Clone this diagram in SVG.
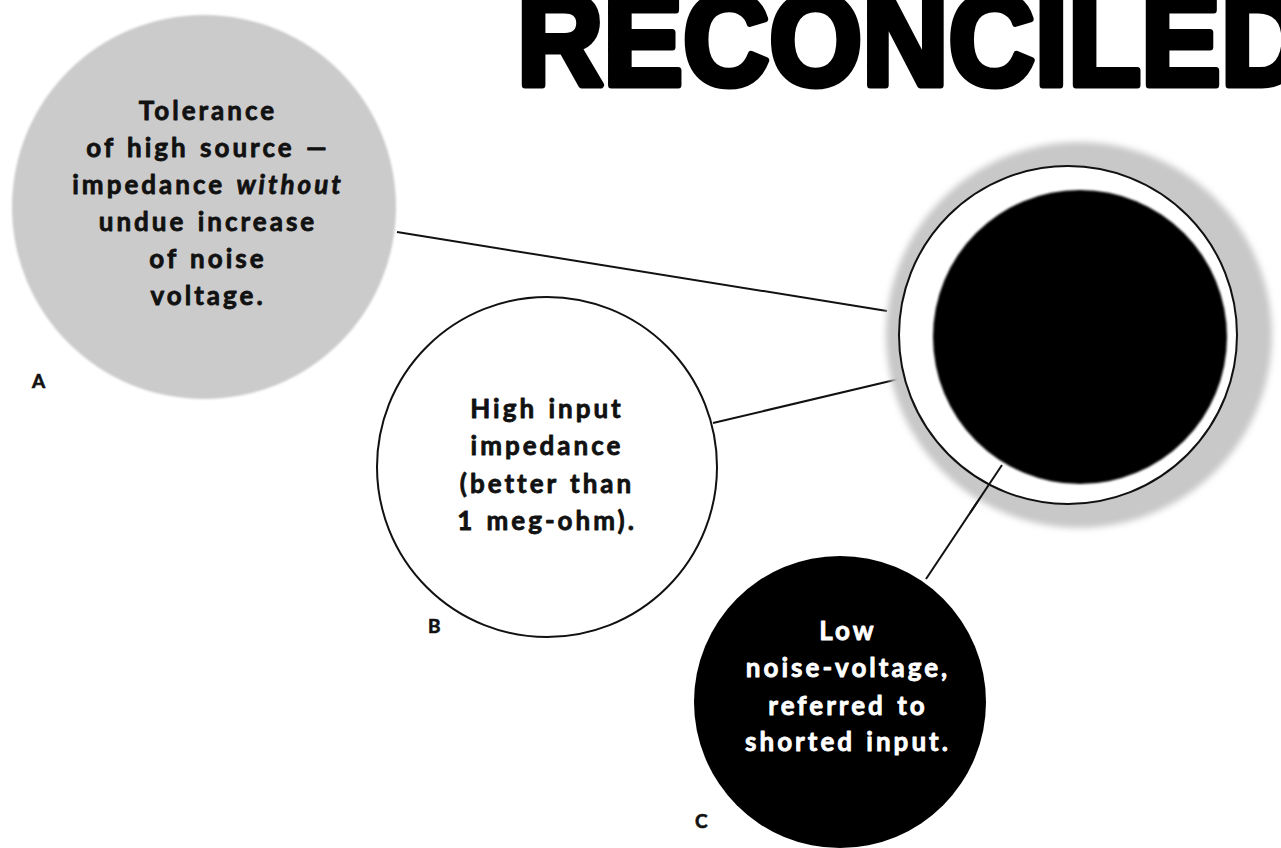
<svg xmlns="http://www.w3.org/2000/svg" width="1281" height="848" viewBox="0 0 1281 848">
  <style>
    .body { font-family: Lato, "Open Sans", "Liberation Sans", sans-serif; font-weight: bold; font-size: 26px; text-anchor: middle; letter-spacing: 3px; word-spacing: 2px; stroke-width: 0.8px; stroke-linejoin: round; }
    .dark { fill: #111; stroke: #111; }
    .light { fill: #fff; stroke: #fff; }
    .lbl { font-family: Lato, "Liberation Sans", sans-serif; font-weight: bold; font-size: 19px; fill: #111; stroke: #111; stroke-width: 0.6px; }
    .conn { stroke: #111; stroke-width: 2; fill: none; }
    .title { font-family: "Liberation Sans", Arial, sans-serif; font-weight: bold; font-size: 130px; fill: #000; stroke: #000; stroke-width: 7; stroke-linejoin: round; }
  </style>
  <defs>
    <filter id="soft" x="-20%" y="-20%" width="140%" height="140%">
      <feGaussianBlur stdDeviation="3"/>
    </filter>
    <filter id="edge" x="-10%" y="-10%" width="120%" height="120%">
      <feGaussianBlur stdDeviation="1"/>
    </filter>
  </defs>
  <rect width="1281" height="848" fill="#fff"/>

  <g id="title">
    <text class="title" x="517" y="85" textLength="790" lengthAdjust="spacingAndGlyphs">RECONCILED</text>
  </g>

  <g id="connectors">
    <line class="conn" x1="397" y1="232" x2="887" y2="311"/>
    <line class="conn" x1="713" y1="423" x2="903" y2="378"/>
    <line class="conn" x1="1002" y1="465" x2="926" y2="579"/>
  </g>

  <g id="node-center">
    <circle cx="1079" cy="335" r="193" fill="#c8c8c8" filter="url(#soft)"/>
    <circle cx="1068" cy="335" r="169" fill="#fff" stroke="#111" stroke-width="2"/>
    <circle cx="1080" cy="337" r="147" fill="#000" filter="url(#edge)"/>
    <line class="conn" x1="1002" y1="465" x2="970" y2="513"/>
  </g>

  <g id="node-a">
    <circle cx="204" cy="207" r="192" fill="#cbcbcb" filter="url(#edge)"/>
    <text class="body dark" x="208" y="120">Tolerance</text>
    <text class="body dark" x="208" y="157">of high source —</text>
    <text class="body dark" x="208" y="194">impedance <tspan font-style="italic">without</tspan></text>
    <text class="body dark" x="208" y="231">undue increase</text>
    <text class="body dark" x="208" y="268">of noise</text>
    <text class="body dark" x="208" y="305">voltage.</text>
    <text class="lbl" x="32" y="388">A</text>
  </g>

  <g id="node-b">
    <circle cx="547" cy="467" r="170" fill="#fff" stroke="#111" stroke-width="2"/>
    <text class="body dark" x="547" y="418">High input</text>
    <text class="body dark" x="547" y="455">impedance</text>
    <text class="body dark" x="547" y="493">(better than</text>
    <text class="body dark" x="547" y="530">1 meg-ohm).</text>
    <text class="lbl" x="428" y="633">B</text>
  </g>

  <g id="node-c">
    <circle cx="840" cy="702" r="146" fill="#000"/>
    <text class="body light" x="848" y="640">Low</text>
    <text class="body light" x="848" y="677">noise-voltage,</text>
    <text class="body light" x="848" y="715">referred to</text>
    <text class="body light" x="848" y="751">shorted input.</text>
    <text class="lbl" x="695" y="828">C</text>
  </g>
</svg>
